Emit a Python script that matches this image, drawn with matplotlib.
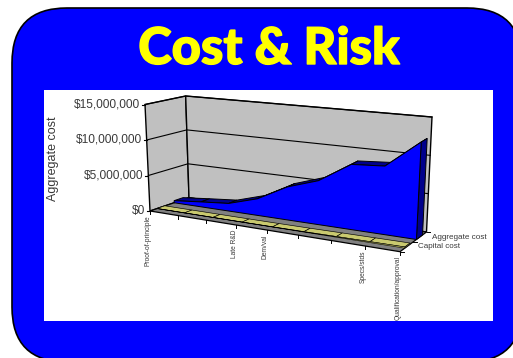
import numpy as np
import matplotlib
matplotlib.use("Agg")
import matplotlib.pyplot as plt
import matplotlib.patheffects as pe
from matplotlib.patches import FancyBboxPatch, Polygon, Rectangle

# Dados (custo acumulado por fase)
fases = ["Proof-of-principle", "", "", "Late R&D", "Dem/val", "", "", "Specs/stds",
         "Qualification/approval"]
agregado = [300000, 700000, 1070000, 2300000, 4500000, 5900000, 8600000, 8900000, 12500000]
capital = [20000, 20000, 20000, 20000, 30000, 50000, 90000, 120000, 150000]
valores_y = [0, 5000000, 10000000, 15000000]
rotulos_y = ["$0", "$5,000,000", "$10,000,000", "$15,000,000"]
VMAX = 15000000

# Cores
AZUL = "#0000ff"
AZUL_ESC = "#00008c"
AMARELO = "#ffff00"
CAQUI = "#c9c96f"
CLARO = "#ffff80"
PAREDE = "#c0c0c0"
PISO = "#808080"
TEXTO = "#3a3a3a"

# Cantos da caixa 3D em pixels: (frente/fundo, esquerda/direita, baixo/cima)
CANTOS = {
    (0, 0, 0): (150, 211), (0, 0, 1): (145, 104.5),
    (0, 1, 0): (400, 251.7), (0, 1, 1): (406, 131.7),
    (1, 0, 0): (189, 197.7), (1, 0, 1): (185.7, 96),
    (1, 1, 0): (426.5, 232), (1, 1, 1): (432, 117),
}
K = 1.145


def proj(cat, prof, valor):
    # leva (fase, profundidade, valor) para pixels, com leve perspectiva em x
    c = cat / (len(fases) - 1)
    c = c / (c + K * (1 - c))
    v = valor / VMAX
    p = np.zeros(2)
    for (a, b, d), xy in CANTOS.items():
        peso = (prof if a else 1 - prof) * (c if b else 1 - c) * (v if d else 1 - v)
        p += peso * np.array(xy)
    return p


fig = plt.figure(figsize=(5.13, 3.58), dpi=100, facecolor="white")
ax = fig.add_axes([0, 0, 1, 1])
ax.set_xlim(0, 513)
ax.set_ylim(358, 0)
ax.axis("off")
plt.rcParams["font.family"] = ["Liberation Sans", "DejaVu Sans"]

# Fundo azul arredondado e painel branco
ax.add_patch(FancyBboxPatch((67, 63), 400, 244, boxstyle="round,pad=55,rounding_size=55",
                            fc=AZUL, ec="black", lw=1.2))
ax.add_patch(Rectangle((44, 90), 449, 231, fc="white", ec="none"))
ax.text(269, 64, "Cost & Risk", color=AMARELO, fontsize=36.5, fontweight=900,
        family="Lato", ha="center", va="baseline",
        path_effects=[pe.withStroke(linewidth=1.0, foreground=AMARELO)])


def poli(pts, fc, lw=0.7, z=2):
    ax.add_patch(Polygon(pts, closed=True, fc=fc, ec="black", lw=lw, zorder=z))


n = len(fases)
fim = n - 1

# Paredes e piso
poli([proj(0, 0, 0), proj(0, 1, 0), proj(0, 1, VMAX), proj(0, 0, VMAX)], PAREDE, 1.0)
poli([proj(0, 1, 0), proj(fim, 1, 0), proj(fim, 1, VMAX), proj(0, 1, VMAX)], PAREDE, 1.0)
poli([proj(0, 0, 0), proj(fim, 0, 0), proj(fim, 1, 0), proj(0, 1, 0)], PISO, 0.9)

# Linhas de grade e marcas do eixo de valores
for v, txt in zip(valores_y, rotulos_y):
    a, b, c = proj(0, 0, v), proj(0, 1, v), proj(fim, 1, v)
    if v > 0:
        ax.plot([a[0], b[0], c[0]], [a[1], b[1], c[1]], color="black", lw=0.8, zorder=2.5)
    ax.plot([a[0] - 3, a[0]], [a[1], a[1]], color="black", lw=0.8, zorder=2.5)
    ax.text(a[0] - 4.5, a[1], txt, fontsize=8.6, color=TEXTO, ha="right", va="center")


def serie(vals, d0, d1, cor_frente, cor_topo, cor_lado, z, lw=0.7):
    # topos de cada trecho, do fundo para a frente
    for i in range(n - 1):
        poli([proj(i, d0, vals[i]), proj(i + 1, d0, vals[i + 1]),
              proj(i + 1, d1, vals[i + 1]), proj(i, d1, vals[i])], cor_topo, lw, z)
    # lateral direita
    poli([proj(fim, d0, 0), proj(fim, d1, 0), proj(fim, d1, vals[fim]), proj(fim, d0, vals[fim])],
         cor_lado, lw, z)
    # face da frente
    pts = [proj(0, d0, 0)] + [proj(i, d0, vals[i]) for i in range(n)] + [proj(fim, d0, 0)]
    poli(pts, cor_frente, lw, z + 0.1)


serie(capital, 0.18, 0.38, CLARO, CAQUI, CAQUI, 3, lw=0.45)
serie(agregado, 0.62, 0.85, AZUL, AZUL_ESC, AZUL_ESC, 4)

# Marcas e rotulos do eixo de fases
for i, nome in enumerate(fases):
    p = proj(i, 0, 0)
    ax.plot([p[0], p[0]], [p[1], p[1] + 3], color="black", lw=0.7, zorder=2)
    if nome:
        ax.text(p[0] - 1.5, p[1] + 4.5, nome, fontsize=4.75, color=TEXTO, rotation=90,
                ha="center", va="top")

# Marcas e rotulos do eixo de series
for prof in [0, 0.5, 1]:
    p = proj(fim, prof, 0)
    ax.plot([p[0], p[0] + 3.5], [p[1], p[1]], color="black", lw=0.7, zorder=2)
ax.text(431.5, 237.7, "Aggregate cost", fontsize=5.9, color=TEXTO, ha="left", va="center")
ax.text(417.5, 246.7, "Capital cost", fontsize=5.8, color=TEXTO, ha="left", va="center")

# Titulo do eixo y
ax.text(52.7, 159, "Aggregate cost", fontsize=9, color=TEXTO, rotation=90, ha="center", va="center")

fig.savefig("out.png", dpi=100, facecolor="white")
